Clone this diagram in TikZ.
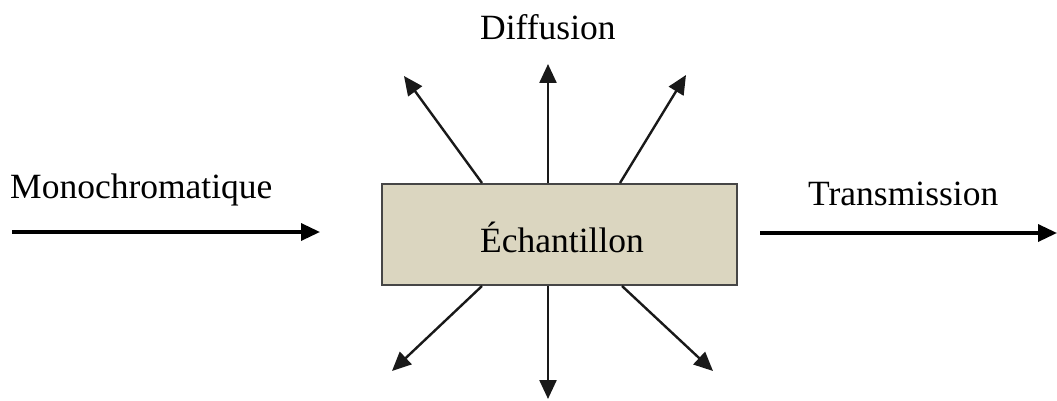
\documentclass[tikz,border=0pt]{standalone}
\usepackage{fontspec}
\setmainfont{Liberation Serif}
\usepackage{xcolor}
\usetikzlibrary{arrows.meta,positioning}
\definecolor{boxfill}{RGB}{219,214,192}
\definecolor{boxline}{RGB}{70,70,70}
\tikzset{
  samplebox/.style={draw=boxline, fill=boxfill, line width=2pt,
                    minimum width=355pt, minimum height=101pt, inner sep=0pt},
  beamarrow/.style={-{Triangle[length=19pt,width=17pt]}, line width=3.4pt},
  scatarrow/.style={-{Triangle[length=19pt,width=17pt]}, line width=2.4pt, draw=black!90},
  lbl/.style={font=\fontsize{35.5}{40}\selectfont, inner sep=0pt, anchor=base west}
}
\begin{document}
\begin{tikzpicture}[x=1pt,y=-1pt]
  \useasboundingbox (0,0) rectangle (1057,401);

  % sample
  \node[samplebox] (ech) at (559.5,234.5) {};
  \node[lbl] (echlbl) at (480,252) {Échantillon};

  % incoming / transmitted beams
  \coordinate (inA) at (12,232);
  \coordinate (inB) at (320,232);
  \coordinate (outA) at (760,233);
  \coordinate (outB) at (1057,233);
  \draw[beamarrow] (inA) -- (inB);
  \draw[beamarrow] (outA) -- (outB);
  \node[lbl] (mono) at (10,198) {Monochromatique};
  \node[lbl] (trans) at (808,205) {Transmission};

  % scattering
  \coordinate (tl) at (404,76);
  \coordinate (tm) at (548,64);
  \coordinate (tr) at (686,75);
  \coordinate (bl) at (392,371);
  \coordinate (bm) at (548,399);
  \coordinate (br) at (713,371);
  \draw[scatarrow] (ech.north west -| 482,0) -- (tl);
  \draw[scatarrow] (ech.north west -| 548,0) -- (tm);
  \draw[scatarrow] (ech.north west -| 620,0) -- (tr);
  \draw[scatarrow] (ech.south west -| 482,0) -- (bl);
  \draw[scatarrow] (ech.south west -| 548,0) -- (bm);
  \draw[scatarrow] (ech.south west -| 622,0) -- (br);
  \node[lbl] (diff) at (480,40) {Diffusion};
\end{tikzpicture}
\end{document}
